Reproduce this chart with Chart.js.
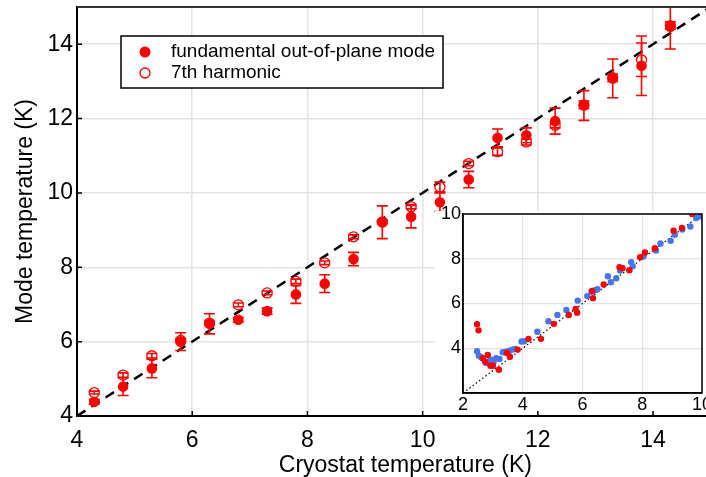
<!DOCTYPE html>
<html>
<head>
<meta charset="utf-8">
<script src="https://cdn.jsdelivr.net/npm/chart.js@4.4.0/dist/chart.umd.min.js"></script>
<style>
html, body { margin: 0; padding: 0; background: #fff; overflow: hidden; }
#wrap { position: relative; width: 706px; height: 477px; overflow: hidden; }
#main { position: absolute; left: 0; top: 0; }
#inset { position: absolute; left: 435px; top: 203px; }
</style>
</head>
<body>
<div id="wrap">
  <canvas id="main" width="740" height="477"></canvas>
  <canvas id="inset" width="271" height="208"></canvas>
</div>
<script>
// main panel data
const cryoT   = [4.3, 4.8, 5.3, 5.8, 6.3, 6.8, 7.3, 7.8, 8.3, 8.8, 9.3, 9.8, 10.3, 10.8, 11.3, 11.8, 12.3, 12.8, 13.3, 13.8, 14.3];
const fundT   = [4.38, 4.79, 5.28, 6.0, 6.48, 6.59, 6.82, 7.27, 7.56, 8.22, 9.21, 9.36, 9.75, 10.36, 11.48, 11.55, 11.93, 12.35, 13.08, 13.42, 14.47];
const fundErr = [0.06, 0.24, 0.25, 0.24, 0.27, 0.06, 0.08, 0.24, 0.24, 0.18, 0.44, 0.3, 0.25, 0.22, 0.24, 0.2, 0.35, 0.4, 0.52, 0.8, 0.6];
const harmT   = [4.63, 5.1, 5.62, 6.03, 6.5, 6.99, 7.31, 7.62, 8.12, 8.82, 9.22, 9.63, 10.16, 10.79, 11.11, 11.37, 11.82, 12.37, 13.1, 13.58, 14.5];
const harmErr = [0.04, 0.06, 0.06, 0.05, 0.05, 0.05, 0.05, 0.06, 0.05, 0.05, 0.05, 0.06, 0.13, 0.06, 0.1, 0.08, 0.07, 0.1, 0.1, 0.45, 0.1];
const xTicks = [4, 6, 8, 10, 12, 14];
const yTicks = [4, 6, 8, 10, 12, 14];

// inset data
const redX  = [2.47, 2.52, 2.66, 2.74, 2.83, 2.92, 3.0, 3.2, 3.47, 3.57, 3.83, 4.19, 4.61, 5.04, 5.54, 5.77, 5.82, 6.32, 6.35, 6.71, 7.24, 7.34, 7.57, 7.93, 8.09, 8.42, 9.05, 9.33, 9.67];
const redY  = [5.07, 4.8, 3.55, 3.4, 3.7, 3.22, 3.22, 3.04, 3.79, 3.62, 3.94, 4.42, 4.42, 5.09, 5.49, 5.76, 5.59, 6.56, 6.24, 6.85, 7.62, 7.58, 7.49, 8.07, 8.28, 8.47, 9.25, 9.38, 10.0];
const blueX = [2.47, 2.53, 2.61, 2.78, 2.86, 2.94, 3.02, 3.11, 3.22, 3.33, 3.44, 3.55, 3.66, 3.75, 3.96, 4.05, 4.49, 4.86, 5.16, 5.46, 5.84, 6.16, 6.3, 6.41, 6.5, 6.85, 6.95, 7.13, 7.26, 7.63, 7.68, 8.04, 8.46, 8.61, 8.95, 9.09, 9.34, 9.61, 9.81, 9.95];
const blueY = [3.87, 3.67, 3.6, 3.34, 3.4, 3.49, 3.37, 3.55, 3.52, 3.82, 3.85, 3.89, 3.94, 3.97, 4.3, 4.31, 4.74, 5.21, 5.49, 5.71, 6.13, 6.33, 6.53, 6.59, 6.64, 7.22, 6.95, 7.13, 7.47, 7.85, 7.67, 8.1, 8.37, 8.68, 8.8, 9.07, 9.31, 9.44, 9.82, 9.9];
const insetTicks = [2, 4, 6, 8, 10];

const FONT = "'Liberation Sans', Arial, Helvetica, sans-serif";
Chart.defaults.font.family = FONT;
Chart.defaults.color = '#000';

const pts = (xs, ys) => xs.map((x, i) => ({ x: x, y: ys[i] }));

const errorBars = {
  id: 'errorBars',
  beforeDatasetDraw(chart, args) {
    const ds = chart.data.datasets[args.index];
    if (!ds.errors) return;
    const { ctx, chartArea: a, scales: { x, y } } = chart;
    ctx.save();
    ctx.beginPath();
    ctx.rect(a.left, a.top, a.right - a.left, a.bottom - a.top);
    ctx.clip();
    ctx.strokeStyle = ds.borderColor;
    ctx.lineWidth = 1.6;
    ds.data.forEach((p, i) => {
      const e = ds.errors[i];
      const px = x.getPixelForValue(p.x);
      const t = y.getPixelForValue(p.y + e);
      const b = y.getPixelForValue(p.y - e);
      ctx.beginPath();
      ctx.moveTo(px, t); ctx.lineTo(px, b);
      ctx.moveTo(px - 5.5, t); ctx.lineTo(px + 5.5, t);
      ctx.moveTo(px - 5.5, b); ctx.lineTo(px + 5.5, b);
      ctx.stroke();
    });
    ctx.restore();
  }
};

const mainFrame = {
  id: 'mainFrame',
  afterDraw(chart) {
    const { ctx, chartArea: a, scales: { x, y } } = chart;
    ctx.save();
    ctx.strokeStyle = '#333';
    ctx.lineWidth = 2;
    ctx.beginPath();
    ctx.moveTo(a.left, a.top);
    ctx.lineTo(a.right, a.top);
    ctx.stroke();

    // small inward tick marks
    ctx.strokeStyle = '#000';
    ctx.lineWidth = 1.5;
    ctx.beginPath();
    x.ticks.forEach(t => {
      const px = x.getPixelForValue(t.value);
      ctx.moveTo(px, a.bottom); ctx.lineTo(px, a.bottom - 5);
    });
    y.ticks.forEach(t => {
      const py = y.getPixelForValue(t.value);
      ctx.moveTo(a.left, py); ctx.lineTo(a.left + 5, py);
    });
    ctx.stroke();

    // legend box
    const fund = chart.data.datasets[0], harm = chart.data.datasets[1];
    ctx.fillStyle = '#fff';
    ctx.fillRect(121, 36, 322, 52);
    ctx.strokeStyle = '#000';
    ctx.lineWidth = 1.5;
    ctx.strokeRect(121, 36, 322, 52);
    ctx.fillStyle = 'red';
    ctx.beginPath(); ctx.arc(145, 52, 5.5, 0, Math.PI * 2); ctx.fill();
    ctx.strokeStyle = 'red'; ctx.lineWidth = 1.3;
    ctx.beginPath(); ctx.arc(145, 73, 5, 0, Math.PI * 2); ctx.stroke();
    ctx.fillStyle = '#000';
    ctx.font = '19px ' + FONT;
    ctx.textBaseline = 'middle';
    ctx.fillText(fund.label, 171, 52);
    ctx.fillText(harm.label, 171, 73);
    ctx.restore();
  }
};

const insetFrame = {
  id: 'insetFrame',
  beforeDraw(chart) {
    // white backing for the inset, leaving the top strip see-through
    const ctx = chart.ctx;
    ctx.save();
    ctx.fillStyle = '#fff';
    ctx.fillRect(0, 8, chart.width, chart.height - 8);
    ctx.restore();
  },
  afterDraw(chart) {
    const { ctx, chartArea: a } = chart;
    ctx.save();
    ctx.strokeStyle = '#000';
    ctx.lineWidth = 1.5;
    ctx.strokeRect(a.left, a.top, a.right - a.left, a.bottom - a.top);
    ctx.restore();
  }
};

const keepTicks = list => s => { s.ticks = list.map(v => ({ value: v })); };
const fixBox = (w, h) => s => {
  if (w !== null) s.width = w;
  if (h !== null) s.height = h;
  s.paddingTop = 0; s.paddingBottom = 0; s.paddingLeft = 0; s.paddingRight = 0;
};

new Chart(document.getElementById('main'), {
  type: 'scatter',
  data: {
    datasets: [
      {
        label: 'fundamental out-of-plane mode',
        data: pts(cryoT, fundT),
        errors: fundErr,
        backgroundColor: 'red',
        borderColor: 'red',
        borderWidth: 0,
        pointRadius: 5.3,
        order: 1
      },
      {
        label: '7th harmonic',
        data: pts(cryoT, harmT),
        errors: harmErr,
        backgroundColor: 'rgba(0,0,0,0)',
        borderColor: 'red',
        borderWidth: 1.3,
        pointRadius: 5,
        order: 2
      },
      {
        label: 'y = x',
        data: [{ x: 4, y: 4 }, { x: 15.4, y: 15.4 }],
        showLine: true,
        borderColor: '#000',
        borderWidth: 2.5,
        borderDash: [10, 7],
        pointRadius: 0,
        order: 3
      }
    ]
  },
  options: {
    responsive: false,
    animation: false,
    layout: { padding: { top: 7, right: 3, left: 0, bottom: 0 } },
    plugins: { legend: { display: false }, tooltip: { enabled: false } },
    scales: {
      x: {
        type: 'linear', min: 4, max: 15.4,
        afterBuildTicks: keepTicks(xTicks),
        ticks: { font: { size: 23 }, padding: 11, maxRotation: 0 },
        grid: { color: '#e3e3e3', lineWidth: 1.5, drawTicks: false },
        border: { color: '#000', width: 2 },
        title: { display: true, text: 'Cryostat temperature (K)', font: { size: 23, lineHeight: 1 }, padding: 0 },
        afterFit: fixBox(null, 61)
      },
      y: {
        type: 'linear', min: 4, max: 15,
        afterBuildTicks: keepTicks(yTicks),
        ticks: { font: { size: 23 }, padding: 4 },
        grid: { color: '#e3e3e3', lineWidth: 1.5, drawTicks: false },
        border: { color: '#000', width: 2 },
        title: { display: true, text: 'Mode temperature (K)', font: { size: 23, lineHeight: 1 }, padding: { top: 14, bottom: 0 } },
        afterFit: fixBox(77, null)
      }
    }
  },
  plugins: [errorBars, mainFrame]
});

new Chart(document.getElementById('inset'), {
  type: 'scatter',
  data: {
    datasets: [
      { label: 'red', data: pts(redX, redY), backgroundColor: '#ff0000', borderWidth: 0, pointRadius: 3.2, order: 1 },
      { label: 'blue', data: pts(blueX, blueY), backgroundColor: '#4477ee', borderWidth: 0, pointRadius: 3.2, order: 2 },
      {
        label: 'y = x',
        data: [{ x: 2, y: 2 }, { x: 10, y: 10 }],
        showLine: true,
        borderColor: '#000',
        borderWidth: 1.2,
        borderDash: [1.5, 2.5],
        pointRadius: 0,
        order: 3
      }
    ]
  },
  options: {
    responsive: false,
    animation: false,
    layout: { padding: { top: 11, right: 2, left: 0, bottom: 0 } },
    plugins: { legend: { display: false }, tooltip: { enabled: false } },
    scales: {
      x: {
        type: 'linear', min: 2, max: 10,
        afterBuildTicks: keepTicks(insetTicks),
        ticks: { font: { size: 18 }, padding: 1, maxRotation: 0 },
        grid: { color: '#e3e3e3', lineWidth: 1.2, drawTicks: false },
        border: { color: '#000', width: 1.5 },
        afterFit: fixBox(null, 18)
      },
      y: {
        type: 'linear', min: 2, max: 10,
        afterBuildTicks: keepTicks(insetTicks.slice(1)),
        ticks: { font: { size: 18 }, padding: 2 },
        grid: { color: '#e3e3e3', lineWidth: 1.2, drawTicks: false },
        border: { color: '#000', width: 1.5 },
        afterFit: fixBox(28, null)
      }
    }
  },
  plugins: [insetFrame]
});
</script>
</body>
</html>
